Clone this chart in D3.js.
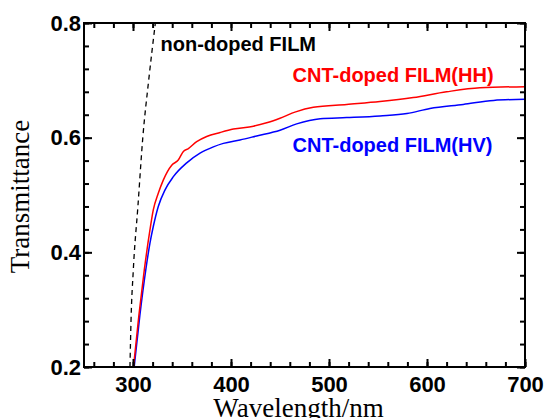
<!DOCTYPE html>
<html><head><meta charset="utf-8">
<script src="https://cdn.jsdelivr.net/npm/d3@7"></script>
<style>body{margin:0;background:#fff}svg{display:block}</style>
</head><body>
<script>
// ---- data ----
const hhWavelength = [300.5,306,311.5,317.3,320.7,325.8,330.9,339.5,346.2,351.4,356.5,365,375.2,388.9,402.4,422.9,436.4,450,466,484,518,552,586,620,654,700];
const hhValues     = [0.2,0.29,0.369,0.439,0.474,0.503,0.526,0.552,0.561,0.576,0.581,0.593,0.602,0.609,0.615,0.620,0.626,0.634,0.645,0.653,0.658,0.663,0.670,0.680,0.687,0.689];
const hvWavelength = [301.2,307,313,317.3,320.7,325.8,332.7,341.2,354.8,368.4,382,392.2,409.2,426.2,450,467,491,518,552,579.5,603,637,668,700];
const hvValues     = [0.2,0.29,0.369,0.416,0.445,0.480,0.509,0.532,0.556,0.573,0.584,0.590,0.596,0.603,0.613,0.624,0.633,0.635,0.638,0.642,0.651,0.658,0.665,0.667];
const ndWavelength = [296.9,298,300.3,305,310,316,322.8];
const ndValues     = [0.2,0.282,0.369,0.48,0.6,0.7,0.8];
const xMajorTicks = [300,400,500,600,700];
const yMajorTicks = [0.2,0.4,0.6,0.8];
const xMinorTicks = d3.range(260,701,20);
const yMinorTicks = d3.range(0,16).map(i => +(0.2 + i*0.04).toFixed(2));
const labels = ["non-doped FILM","CNT-doped FILM(HH)","CNT-doped FILM(HV)"];

// ---- layout ----
const W = 546, H = 418;
const L = 84, R = 525, T = 23, B = 367;
const svg = d3.select("body").append("svg").attr("width",W).attr("height",H);
const x = d3.scaleLinear().domain([250,700]).range([L,R]);
const y = d3.scaleLinear().domain([0.2,0.8]).range([B,T]);

svg.append("defs").append("clipPath").attr("id","clip")
  .append("rect").attr("x",L).attr("y",T).attr("width",R-L).attr("height",B-T);

const line = d3.line().x(d=>x(d[0])).y(d=>y(d[1])).curve(d3.curveMonotoneX);
const plot = svg.append("g").attr("clip-path","url(#clip)");
plot.append("path").datum(d3.zip(ndWavelength,ndValues)).attr("d",line)
  .attr("fill","none").attr("stroke","#000").attr("stroke-width",1.3).attr("stroke-dasharray","5,4");
plot.append("path").datum(d3.zip(hvWavelength,hvValues)).attr("d",line)
  .attr("fill","none").attr("stroke","#0000ff").attr("stroke-width",1.5);
plot.append("path").datum(d3.zip(hhWavelength,hhValues)).attr("d",line)
  .attr("fill","none").attr("stroke","#ff0000").attr("stroke-width",1.5);

// ---- axes ----
const tickFont = "bold 22px 'Liberation Sans', Arial, sans-serif";
function styleAxis(g){
  g.select(".domain").remove();
  g.selectAll(".tick line").attr("stroke","#000").attr("stroke-width",2);
  g.selectAll("text").style("font",tickFont).attr("fill","#000");
}
svg.append("g").attr("transform",`translate(0,${B})`)
  .call(d3.axisBottom(x).tickValues(xMinorTicks).tickSize(-5).tickFormat("")).call(styleAxis);
svg.append("g").attr("transform",`translate(0,${B})`)
  .call(d3.axisBottom(x).tickValues(xMajorTicks).tickSize(-8).tickPadding(9).tickFormat(d3.format("d"))).call(styleAxis);
svg.append("g").attr("transform",`translate(0,${T})`)
  .call(d3.axisTop(x).tickValues(xMinorTicks).tickSize(-5).tickFormat("")).call(styleAxis);
svg.append("g").attr("transform",`translate(0,${T})`)
  .call(d3.axisTop(x).tickValues(xMajorTicks).tickSize(-8).tickFormat("")).call(styleAxis);
svg.append("g").attr("transform",`translate(${L},0)`)
  .call(d3.axisLeft(y).tickValues(yMinorTicks).tickSize(-5).tickFormat("")).call(styleAxis);
svg.append("g").attr("transform",`translate(${L},0)`)
  .call(d3.axisLeft(y).tickValues(yMajorTicks).tickSize(-8).tickPadding(3).tickFormat(d3.format(".1f"))).call(styleAxis);
svg.append("g").attr("transform",`translate(${R},0)`)
  .call(d3.axisRight(y).tickValues(yMinorTicks).tickSize(-5).tickFormat("")).call(styleAxis);
svg.append("g").attr("transform",`translate(${R},0)`)
  .call(d3.axisRight(y).tickValues(yMajorTicks).tickSize(-8).tickFormat("")).call(styleAxis);

svg.append("rect").attr("x",L).attr("y",T).attr("width",R-L).attr("height",B-T)
  .attr("fill","none").attr("stroke","#000").attr("stroke-width",2);

// ---- titles ----
const serif = "'Liberation Serif','Times New Roman',serif";
svg.append("text").attr("x",298.5).attr("y",416.5).attr("text-anchor","middle")
  .style("font",`27px ${serif}`).text("Wavelength/nm");
svg.append("text").attr("transform","translate(29,196.5) rotate(-90)").attr("text-anchor","middle")
  .style("font",`27px ${serif}`).text("Transmittance");

// ---- labels ----
const lblFont = "bold 20px 'Liberation Sans', Arial, sans-serif";
svg.append("text").attr("x",160.5).attr("y",51).style("font",lblFont).attr("fill","#000").text(labels[0]);
svg.append("text").attr("x",292.5).attr("y",81.5).style("font",lblFont).attr("fill","#ff0000").text(labels[1]);
svg.append("text").attr("x",292.5).attr("y",151.5).style("font",lblFont).attr("fill","#0000ff").text(labels[2]);
</script>
</body></html>
